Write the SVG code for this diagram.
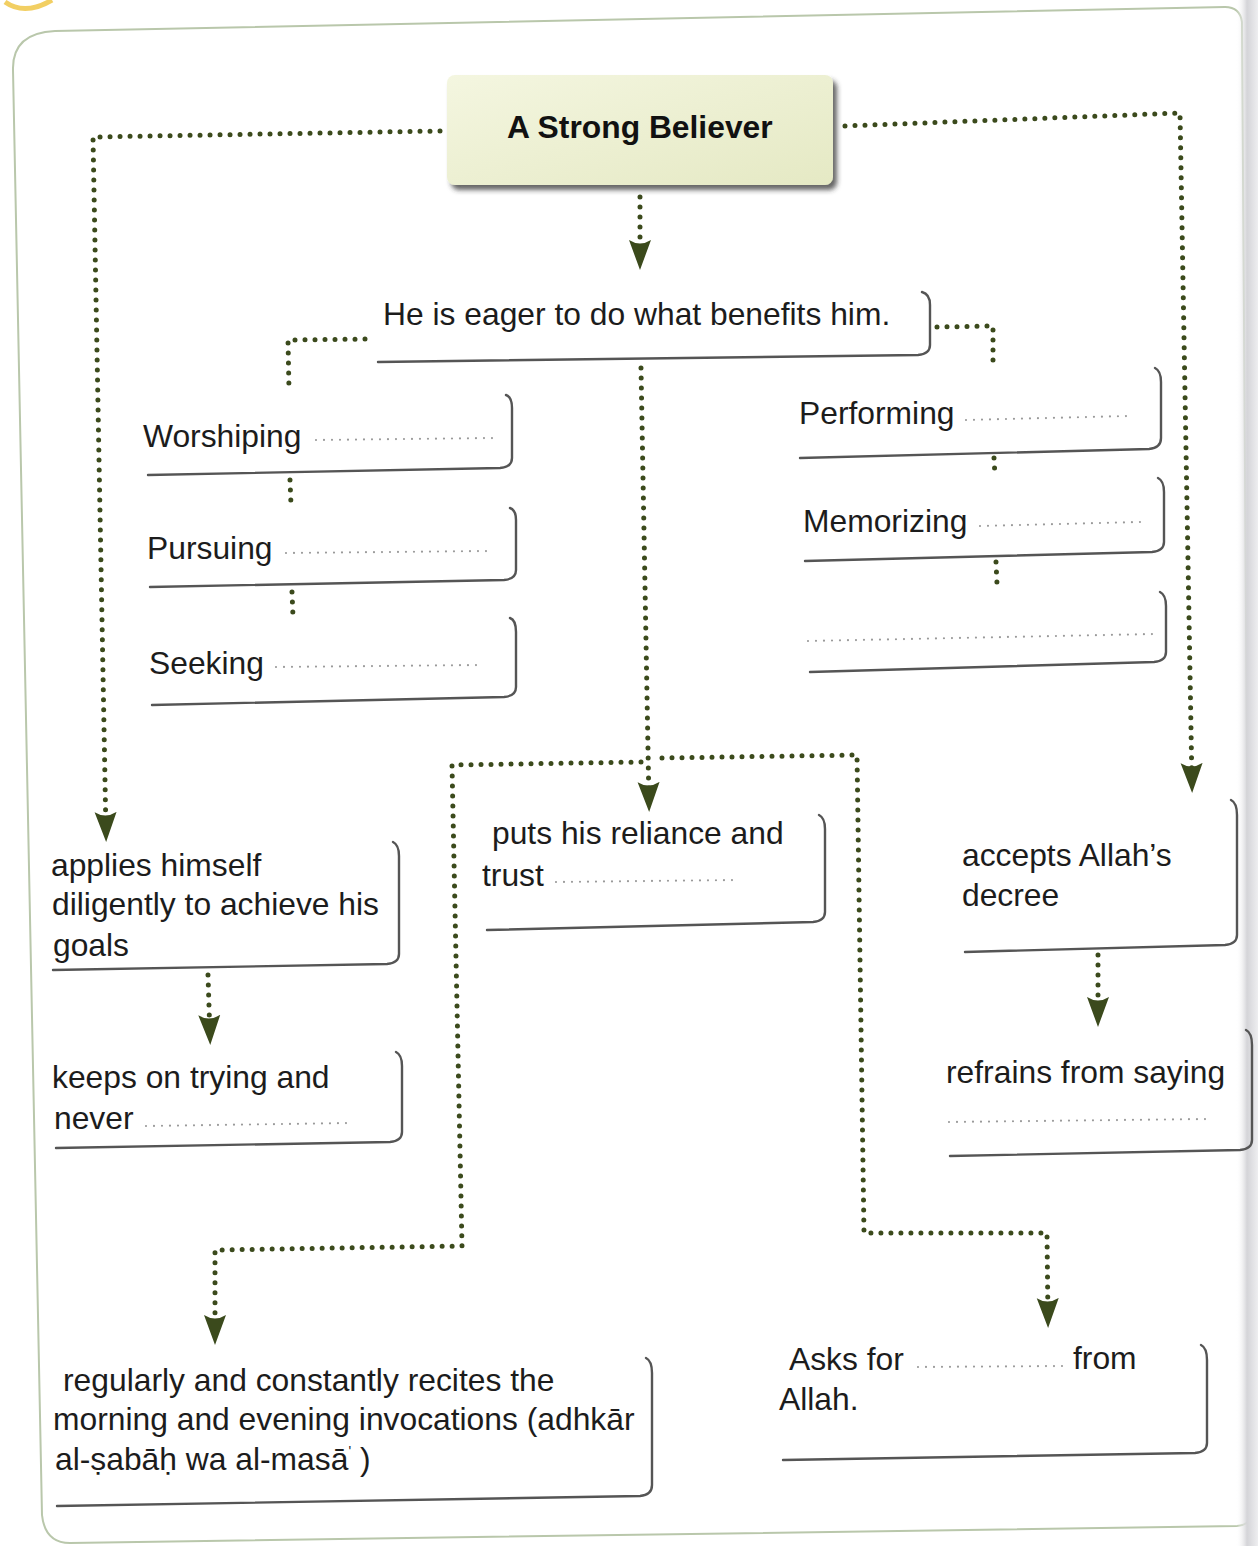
<svg xmlns="http://www.w3.org/2000/svg" width="1258" height="1546" viewBox="0 0 1258 1546">
<defs>
<style>
text{font-family:"Liberation Sans",Arial,Helvetica,sans-serif;fill:#1c1c1c;font-size:31.8px}
.title{font-weight:bold;font-size:31.8px;fill:#111}
.box{fill:none;stroke:#555;stroke-width:2.4;stroke-linejoin:round;stroke-linecap:round}
.blank{fill:none;stroke:#9a9a9a;stroke-width:2.2;stroke-dasharray:0 8;stroke-linecap:round}
.conn{fill:none;stroke:#3b4a1c;stroke-width:5;stroke-dasharray:0 10;stroke-linecap:round;stroke-linejoin:round}
.arr{marker-end:url(#ah)}
</style>
<marker id="ah" viewBox="0 0 30 24" refX="22" refY="12" markerWidth="30" markerHeight="24" markerUnits="userSpaceOnUse" orient="auto">
<path d="M0,1 Q7,12 0,23 L30,12 Z" fill="#3b4a1c"/>
</marker>
<linearGradient id="tg" x1="0" y1="0" x2="1" y2="1">
<stop offset="0" stop-color="#f4f6e0"/>
<stop offset="1" stop-color="#e5e9c4"/>
</linearGradient>
<linearGradient id="gut" x1="0" y1="0" x2="1" y2="0">
<stop offset="0" stop-color="#ffffff" stop-opacity="0"/>
<stop offset="0.5" stop-color="#d4d4d8"/>
<stop offset="1" stop-color="#eeeef0"/>
</linearGradient>
<filter id="sh" x="-10%" y="-20%" width="125%" height="150%">
<feDropShadow dx="4" dy="5" stdDeviation="2.5" flood-color="#333" flood-opacity="0.75"/>
</filter>
</defs>
<rect width="1258" height="1546" fill="#fff"/>
<path d="M5,2 Q25,16 52,0" fill="none" stroke="#f2cf63" stroke-width="5"/>
<path d="M55,31 L1225,7 Q1240,7 1242,22 L1252,1510 Q1252,1525 1237,1526 L70,1543 Q45,1543 42,1515 L13,70 Q12,33 55,31 Z" fill="#fff" stroke="#b9c7ab" stroke-width="2"/>
<rect x="1236" y="0" width="22" height="1546" fill="url(#gut)"/>

<g id="connectors">
<path class="conn arr" d="M440,131 L93,137 L106,834"/>
<path class="conn arr" d="M640,197 L640,262"/>
<path class="conn arr" d="M845,126 L1180,113 L1192,785"/>
<path class="conn" d="M365,339 L288,340 L289,390"/>
<path class="conn" d="M937,327 L993,326 L993,365"/>
<path class="conn" d="M290,480 L291,505"/>
<path class="conn" d="M292,592 L293,617"/>
<path class="conn" d="M994,458 L995,476"/>
<path class="conn" d="M996,562 L997,584"/>
<path class="conn arr" d="M641,368 L649,804"/>
<path class="conn arr" d="M641,762 L452,765 L462,1246 L215,1250 L215,1337"/>
<path class="conn arr" d="M662,758 L857,755 L864,1233 L1047,1233 L1048,1320"/>
<path class="conn arr" d="M208,975 L210,1037"/>
<path class="conn arr" d="M1098,955 L1098,1019"/>
</g>

<g id="n-title">
<rect x="447" y="75" width="386" height="110" rx="8" fill="url(#tg)" filter="url(#sh)"/>
<text class="title" x="507" y="138">A Strong Believer</text>
</g>

<g id="n-eager">
<path class="box" d="M922,292 Q930,294 930,305 L930,345 Q930,354 918,355 L378,362"/>
<text x="383" y="325">He is eager to do what benefits him.</text>
</g>

<g id="n-worshiping">
<path class="box" d="M506,395 Q512,397 512,408 L512,458 Q512,467 500,468 L148,475"/>
<text x="143" y="447">Worshiping</text>
<line class="blank" x1="316" y1="440" x2="495" y2="438"/>
</g>
<g id="n-pursuing">
<path class="box" d="M510,508 Q516,510 516,520 L516,570 Q516,579 504,580 L150,587"/>
<text x="147" y="559">Pursuing</text>
<line class="blank" x1="286" y1="553" x2="490" y2="551"/>
</g>
<g id="n-seeking">
<path class="box" d="M510,618 Q516,620 516,632 L516,687 Q516,696 504,697 L152,705"/>
<text x="149" y="674">Seeking</text>
<line class="blank" x1="276" y1="667" x2="482" y2="665"/>
</g>

<g id="n-performing">
<path class="box" d="M1155,368 Q1161,371 1161,382 L1161,438 Q1161,448 1149,449 L800,458"/>
<text x="799" y="424">Performing</text>
<line class="blank" x1="966" y1="420" x2="1128" y2="416"/>
</g>
<g id="n-memorizing">
<path class="box" d="M1158,478 Q1164,481 1164,492 L1164,542 Q1164,551 1152,552 L805,561"/>
<text x="803" y="532">Memorizing</text>
<line class="blank" x1="980" y1="526" x2="1140" y2="522"/>
</g>
<g id="n-blank">
<path class="box" d="M1160,592 Q1166,595 1166,606 L1166,652 Q1166,661 1154,662 L810,672"/>
<line class="blank" x1="808" y1="641" x2="1155" y2="634"/>
</g>

<g id="n-applies">
<path class="box" d="M393,842 Q399,845 399,856 L399,954 Q399,963 387,964 L53,970"/>
<text x="51" y="876">applies himself</text>
<text x="52" y="915">diligently to achieve his</text>
<text x="53" y="956">goals</text>
</g>
<g id="n-keeps">
<path class="box" d="M396,1052 Q402,1055 402,1066 L402,1132 Q402,1141 390,1142 L56,1148"/>
<text x="52" y="1088">keeps on trying and</text>
<text x="54" y="1129">never</text>
<line class="blank" x1="146" y1="1126" x2="352" y2="1123"/>
</g>

<g id="n-puts">
<path class="box" d="M819,815 Q825,818 825,829 L825,912 Q825,921 813,922 L487,930"/>
<text x="492" y="844">puts his reliance and</text>
<text x="482" y="886">trust</text>
<line class="blank" x1="556" y1="882" x2="737" y2="880"/>
</g>

<g id="n-accepts">
<path class="box" d="M1231,800 Q1237,803 1237,815 L1237,935 Q1237,944 1225,945 L965,952"/>
<text x="962" y="866">accepts Allah’s</text>
<text x="962" y="906">decree</text>
</g>
<g id="n-refrains">
<path class="box" d="M1246,1030 Q1252,1033 1252,1045 L1252,1140 Q1252,1149 1240,1150 L950,1156"/>
<text x="946" y="1083">refrains from saying</text>
<line class="blank" x1="949" y1="1122" x2="1208" y2="1119"/>
</g>

<g id="n-regularly">
<path class="box" d="M646,1358 Q652,1361 652,1373 L652,1485 Q652,1495 640,1496 L57,1506"/>
<text x="63" y="1391">regularly and constantly recites the</text>
<text x="53" y="1430">morning and evening invocations (adhkār</text>
<text x="55" y="1470">al-ṣabāḥ wa al-masā<tspan font-size="14" dy="-14">'</tspan><tspan dy="14"> )</tspan></text>
</g>

<g id="n-asks">
<path class="box" d="M1201,1345 Q1207,1348 1207,1360 L1207,1443 Q1207,1452 1195,1453 L783,1460"/>
<text x="789" y="1370">Asks for</text>
<line class="blank" x1="918" y1="1367" x2="1063" y2="1366"/>
<text x="1073" y="1369">from</text>
<text x="779" y="1410">Allah.</text>
</g>
</svg>
